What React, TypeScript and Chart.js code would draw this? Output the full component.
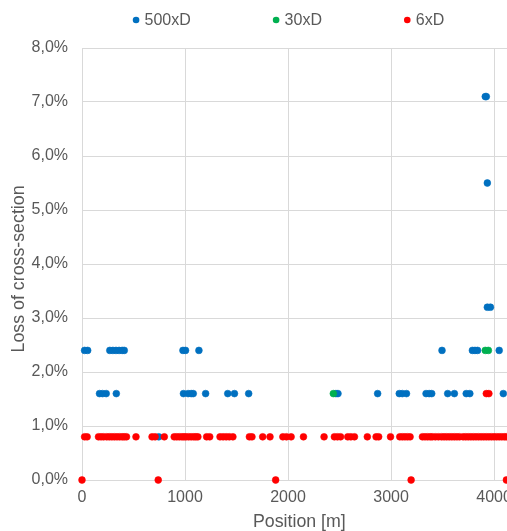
import React, { useEffect, useRef } from "react";
import { Chart, registerables } from "chart.js";

Chart.register(...registerables);

// ---- data (position in m, loss of cross-section as fraction) ----
const SERIES_NAMES = ["500xD", "30xD", "6xD"];
const SERIES_COLORS = ["#0070C0", "#00B050", "#FF0000"];

const POS_500xD = [
  25, 55, 270, 300, 330, 360, 390, 410, 980, 1005, 1135, 3495, 3790, 3815, 3840, 4050,
  170, 200, 235, 333, 985, 1030, 1060, 1080, 1200, 1415, 1480, 1618, 2465, 2485, 2870, 3080, 3110, 3150,
  3340, 3370, 3395, 3550, 3615, 3730, 3765, 4090,
  745,
  3915, 3925, 3935, 3935, 3965,
];
const LOSS_500xD = [
  0.024, 0.024, 0.024, 0.024, 0.024, 0.024, 0.024, 0.024, 0.024, 0.024, 0.024, 0.024, 0.024, 0.024, 0.024, 0.024,
  0.016, 0.016, 0.016, 0.016, 0.016, 0.016, 0.016, 0.016, 0.016, 0.016, 0.016, 0.016, 0.016, 0.016, 0.016, 0.016, 0.016, 0.016,
  0.016, 0.016, 0.016, 0.016, 0.016, 0.016, 0.016, 0.016,
  0.008,
  0.071, 0.071, 0.055, 0.032, 0.032,
];

const POS_30xD = [2440, 3915, 3945];
const LOSS_30xD = [0.016, 0.024, 0.024];

const POS_6xD = [
  25, 50, 160, 185, 210, 240, 265, 290, 315, 340, 365, 390, 410, 432, 524, 680, 710, 799,
  895, 920, 945, 970, 990, 1010, 1035, 1060, 1085, 1105, 1125, 1210, 1240, 1340, 1370, 1400, 1430, 1465,
  1625, 1650, 1754, 1825, 1950, 1985, 2030, 2150, 2350, 2450, 2480, 2510, 2580, 2610, 2645, 2770, 2855, 2880,
  2995, 3085, 3110, 3135, 3160, 3185, 3305, 3330, 3355, 3380, 3400, 3430, 3460, 3490, 3515, 3540, 3565, 3590,
  3615, 3640, 3665, 3700, 3725, 3750, 3775, 3800, 3825, 3850, 3875, 3900, 3925, 3950, 3975, 4000, 4025, 4050,
  4075, 4100, 4120,
  3925, 3950,
  0, 740, 1880, 3195, 4120,
];
const LOSS_6xD = [
  ...POS_6xD.slice(0, POS_6xD.length - 7).map(() => 0.008),
  0.016, 0.016,
  0, 0, 0, 0, 0,
];

const X_MIN = 0;
const X_MAX = 4220;
const X_TICKS = [0, 1000, 2000, 3000, 4000];
const Y_MIN = 0;
const Y_MAX = 0.08;
const Y_STEP = 0.01;

const X_TITLE = "Position [m]";
const Y_TITLE = "Loss of cross-section  ";

const FONT = '"Liberation Sans", Arial, sans-serif';
const TEXT_COLOR = "#595959";
const GRID_COLOR = "#d9d9d9";

function toPoints(xs: number[], ys: number[]) {
  return xs.map((x, i) => ({ x, y: ys[i] }));
}

const legendPlugin = {
  id: "customLegend",
  afterDraw(chart: any) {
    const ctx = chart.ctx as CanvasRenderingContext2D;
    const R = 3.3;
    const TXT_OFF = 8.5;
    const GAP = 82;
    const CX = 288.5;
    const CY = 20;
    ctx.save();
    ctx.font = `16px ${FONT}`;
    ctx.textBaseline = "middle";
    ctx.textAlign = "left";
    const widths = SERIES_NAMES.map((n) => R + TXT_OFF + ctx.measureText(n).width);
    const total = widths.reduce((a, b) => a + b, 0) + GAP * (SERIES_NAMES.length - 1);
    let x = CX - total / 2;
    SERIES_NAMES.forEach((name, i) => {
      ctx.fillStyle = SERIES_COLORS[i];
      ctx.beginPath();
      ctx.arc(x + R, CY, R, 0, Math.PI * 2);
      ctx.fill();
      ctx.fillStyle = TEXT_COLOR;
      ctx.fillText(name, x + R + TXT_OFF, CY + 0.5);
      x += widths[i] + GAP;
    });
    ctx.restore();
  },
};

export default function App() {
  const ref = useRef<HTMLCanvasElement | null>(null);

  useEffect(() => {
    if (!ref.current) return;
    const datasets = [
      { label: SERIES_NAMES[0], data: toPoints(POS_500xD, LOSS_500xD), order: 2 },
      { label: SERIES_NAMES[1], data: toPoints(POS_30xD, LOSS_30xD), order: 1 },
      { label: SERIES_NAMES[2], data: toPoints(POS_6xD, LOSS_6xD), order: 0 },
    ].map((d, i) => ({
      ...d,
      backgroundColor: SERIES_COLORS[i],
      borderColor: SERIES_COLORS[i],
      pointRadius: 3.4,
      pointBorderWidth: 0.6,
      showLine: false,
      clip: false as any,
    }));

    const chart = new Chart(ref.current, {
      type: "scatter",
      data: { datasets },
      plugins: [legendPlugin],
      options: {
        animation: false,
        responsive: false,
        devicePixelRatio: 1,
        layout: { padding: { left: 0, top: 48, right: 560 - 516.7, bottom: 0 } },
        plugins: { legend: { display: false }, tooltip: { enabled: false } },
        scales: {
          x: {
            type: "linear",
            min: X_MIN,
            max: X_MAX,
            afterBuildTicks: (s: any) => {
              s.ticks = X_TICKS.map((v) => ({ value: v }));
            },
            afterFit: (s: any) => {
              s.height = 53;
            },
            ticks: {
              maxRotation: 0,
              padding: 8,
              color: TEXT_COLOR,
              font: { family: FONT, size: 16 },
              callback: (v: any) => String(v),
            },
            grid: { color: GRID_COLOR, drawTicks: false },
            border: { color: GRID_COLOR },
            title: {
              display: true,
              text: X_TITLE,
              color: TEXT_COLOR,
              font: { family: FONT, size: 17.8 },
              padding: { top: 0, bottom: 0 },
            },
          },
          y: {
            type: "linear",
            min: Y_MIN,
            max: Y_MAX,
            afterFit: (s: any) => {
              s.width = 82;
            },
            ticks: {
              stepSize: Y_STEP,
              padding: 14,
              color: TEXT_COLOR,
              font: { family: FONT, size: 16 },
              callback: (v: any) => (Number(v) * 100).toFixed(1).replace(".", ",") + "%",
            },
            grid: { color: GRID_COLOR, drawTicks: false },
            border: { color: GRID_COLOR },
            title: {
              display: true,
              text: Y_TITLE,
              color: TEXT_COLOR,
              font: { family: FONT, size: 17.8 },
              padding: { top: 8.6, bottom: 0 },
            },
          },
        },
      } as any,
    });
    return () => chart.destroy();
  }, []);

  return (
    <div
      style={{
        position: "fixed",
        left: 0,
        top: 0,
        width: 507,
        height: 531,
        overflow: "hidden",
        background: "#ffffff",
      }}
    >
      <canvas ref={ref} width={560} height={533} style={{ display: "block", width: 560, height: 533 }} />
    </div>
  );
}
